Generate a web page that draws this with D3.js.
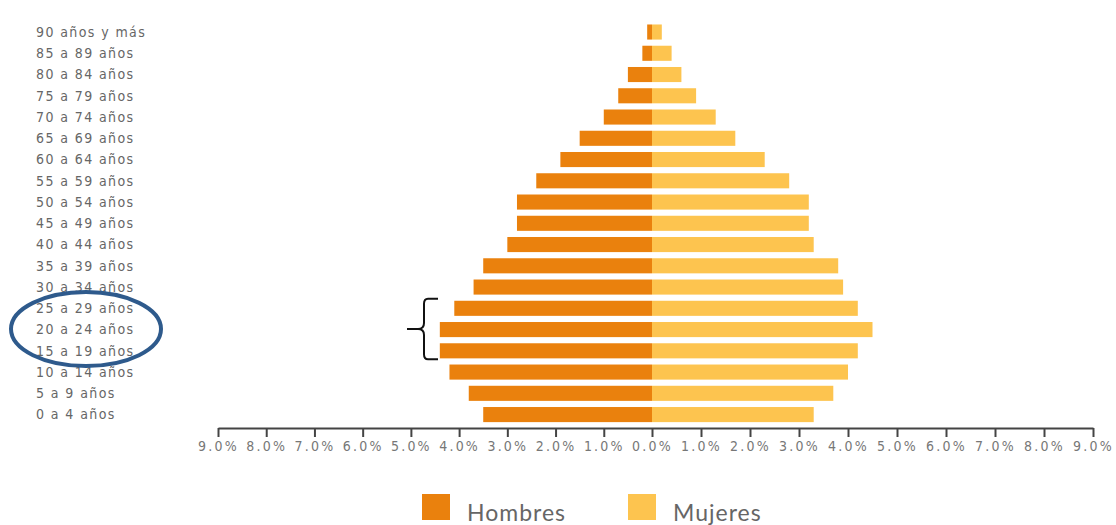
<!DOCTYPE html>
<html>
<head>
<meta charset="utf-8">
<script src="https://cdn.jsdelivr.net/npm/d3@7"></script>
<style>
  html, body { margin: 0; padding: 0; background: #fff; }
  svg { display: block; }
</style>
</head>
<body>
<svg id="chart" width="1116" height="525"></svg>
<script>
// Age groups, oldest at top
const ageGroups = [
  "90 años y más", "85 a 89 años", "80 a 84 años", "75 a 79 años", "70 a 74 años",
  "65 a 69 años", "60 a 64 años", "55 a 59 años", "50 a 54 años", "45 a 49 años",
  "40 a 44 años", "35 a 39 años", "30 a 34 años", "25 a 29 años", "20 a 24 años",
  "15 a 19 años", "10 a 14 años", "5 a 9 años", "0 a 4 años"
];
// Share of total population (%)
const hombres = [0.1, 0.2, 0.5, 0.7, 1.0, 1.5, 1.9, 2.4, 2.8, 2.8, 3.0, 3.5, 3.7, 4.1, 4.4, 4.4, 4.2, 3.8, 3.5];
const mujeres = [0.2, 0.4, 0.6, 0.9, 1.3, 1.7, 2.3, 2.8, 3.2, 3.2, 3.3, 3.8, 3.9, 4.2, 4.5, 4.2, 4.0, 3.7, 3.3];
const tickValues = [-9, -8, -7, -6, -5, -4, -3, -2, -1, 0, 1, 2, 3, 4, 5, 6, 7, 8, 9];
const legendItems = ["Hombres", "Mujeres"];
const highlighted = ["25 a 29 años", "15 a 19 años"];

const colors = { Hombres: "#EA810D", Mujeres: "#FDC44F" };
const labelFont = "'DejaVu Sans Condensed', 'DejaVu Sans', sans-serif";

const svg = d3.select("#chart");

// Signed scale: men to the left (negative), women to the right
const x = d3.scaleLinear().domain([-9, 0, 9]).range([218, 652, 1093]);
const y = d3.scaleBand().domain(ageGroups).range([21.4, 425.2]).paddingInner(0.29).paddingOuter(0.145);

// Bars
const rows = ageGroups.map((g, i) => ({ g, h: hombres[i], m: mujeres[i] }));
svg.append("g").selectAll("rect").data(rows).join("rect")
  .attr("x", d => x(-d.h)).attr("y", d => y(d.g))
  .attr("width", d => x(0) - x(-d.h)).attr("height", y.bandwidth())
  .attr("fill", colors.Hombres);
svg.append("g").selectAll("rect").data(rows).join("rect")
  .attr("x", x(0)).attr("y", d => y(d.g))
  .attr("width", d => x(d.m) - x(0)).attr("height", y.bandwidth())
  .attr("fill", colors.Mujeres);

// Age labels on the left
svg.append("g").selectAll("text").data(ageGroups).join("text")
  .attr("x", 36).attr("y", d => y(d) + y.bandwidth() / 2)
  .attr("dy", "0.35em")
  .attr("font-family", labelFont)
  .attr("font-size", 14).attr("letter-spacing", 1.4).attr("fill", "#666")
  .text(d => d);

// Bottom axis with percentages on both sides
const axis = d3.axisBottom(x).tickValues(tickValues).tickSize(9).tickSizeOuter(0)
  .tickFormat(d => Math.abs(d).toFixed(1) + "%");
const ax = svg.append("g").attr("transform", "translate(0,428)").call(axis);
ax.select(".domain").attr("stroke", "#444").attr("stroke-width", 2);
ax.selectAll(".tick line").attr("stroke", "#444").attr("stroke-width", 2);
ax.selectAll(".tick text")
  .attr("font-family", labelFont)
  .attr("font-size", 14).attr("letter-spacing", 2.2).attr("fill", "#777").attr("y", 13);

// Brace marking the 15–29 group
const yTop = y(highlighted[0]) - 2;
const yBot = y(highlighted[1]) + y.bandwidth() + 1;
const yMid = (yTop + yBot) / 2;
const bx = 424;
svg.append("path")
  .attr("d", `M${bx + 14},${yTop} L${bx + 4},${yTop} Q${bx},${yTop} ${bx},${yTop + 5}
              L${bx},${yMid - 6} Q${bx},${yMid} ${bx - 6},${yMid} L${bx - 17},${yMid}
              M${bx - 6},${yMid} Q${bx},${yMid} ${bx},${yMid + 6}
              L${bx},${yBot - 5} Q${bx},${yBot} ${bx + 4},${yBot} L${bx + 14},${yBot}`)
  .attr("fill", "none").attr("stroke", "#111").attr("stroke-width", 2);

// Ellipse around the highlighted age labels
svg.append("ellipse")
  .attr("cx", 86).attr("cy", yMid).attr("rx", 75).attr("ry", 37)
  .attr("fill", "none").attr("stroke", "#2E5A8C").attr("stroke-width", 4);

// Legend
const legend = svg.append("g").selectAll("g").data(legendItems).join("g")
  .attr("transform", (d, i) => `translate(${422 + i * 206},494)`);
legend.append("rect").attr("width", 28).attr("height", 26).attr("fill", d => colors[d]);
legend.append("text").attr("x", 45).attr("y", 27)
  .attr("font-family", "Lato, 'Open Sans', sans-serif").attr("font-size", 23)
  .attr("letter-spacing", 1).attr("fill", "#666")
  .text(d => d);
</script>
</body>
</html>
